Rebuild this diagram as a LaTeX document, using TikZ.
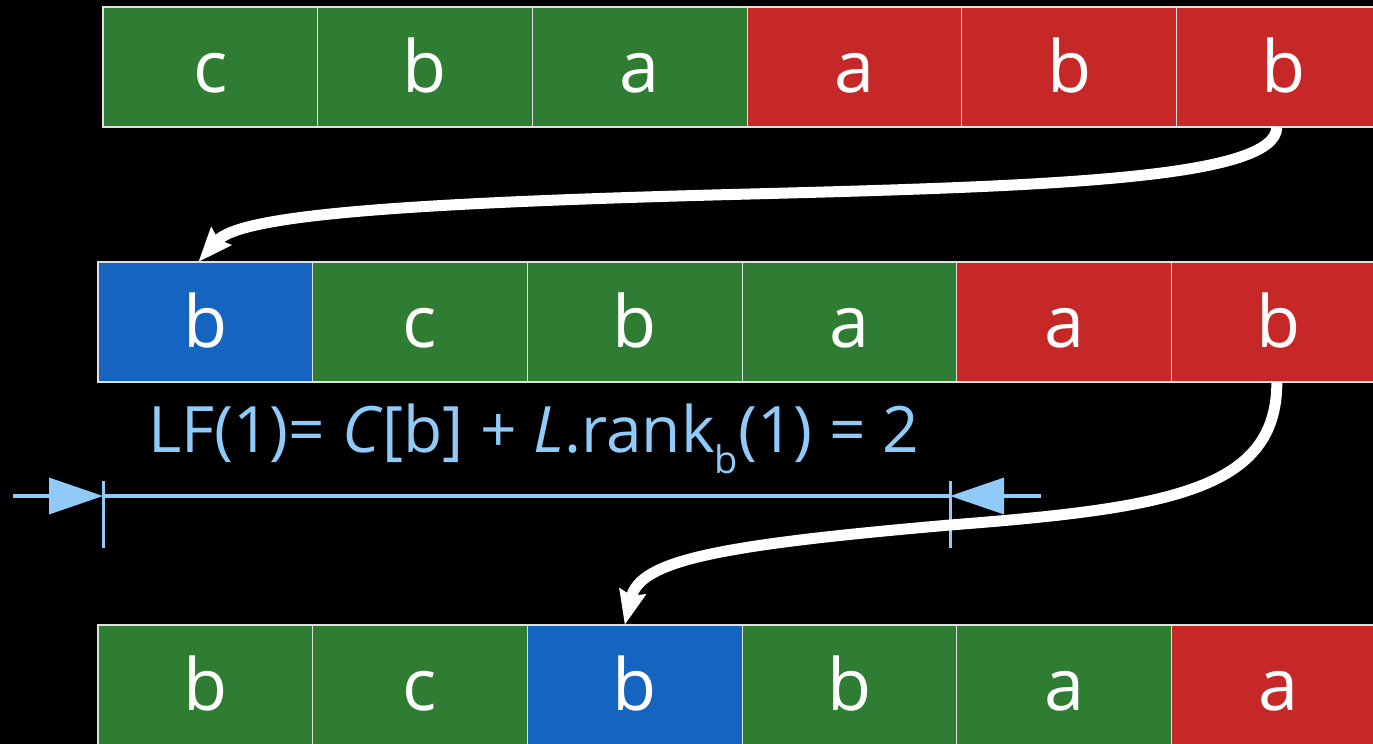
\documentclass[tikz,border=0pt]{standalone}
\usepackage{fontspec}
\setmainfont{Open Sans}
\usetikzlibrary{arrows.meta}
\definecolor{cgreen}{HTML}{2E7D32}
\definecolor{cred}{HTML}{C62828}
\definecolor{cblue}{HTML}{1565C0}
\definecolor{clab}{HTML}{90CAF9}
\definecolor{cborder}{HTML}{E0E0E0}
\begin{document}
\begin{tikzpicture}[x=1pt,y=-1pt,
  cell/.style={draw=cborder, line width=1.2pt, minimum width=214.7pt, minimum height=120pt,
    inner sep=0pt, outer sep=0pt, anchor=north west, text=white,
    font=\fontsize{72}{80}\selectfont, text height=51pt, text depth=0pt},
  gcell/.style={cell, fill=cgreen},
  rcell/.style={cell, fill=cred},
  bcell/.style={cell, fill=cblue},
  flow/.style={draw=white, line width=11pt, -{Stealth[length=34pt,width=26pt,inset=4pt]}},
  dim/.style={draw=clab, line width=3.4pt},
  dimtip/.style={dim, -{Triangle[length=54pt,width=36pt]}},
  tick/.style={draw=clab, line width=3pt}]
\clip (0,0) rectangle (1373,744);
\fill[black] (0,0) rectangle (1373,744);
% row 1
\node[gcell] (a1) at (103,7) {c};
\node[gcell] (a2) at (a1.north east) {b};
\node[gcell] (a3) at (a2.north east) {a};
\node[rcell] (a4) at (a3.north east) {a};
\node[rcell] (a5) at (a4.north east) {b};
\node[rcell] (a6) at (a5.north east) {b};
% row 2
\node[bcell] (b1) at (98,262) {b};
\node[gcell] (b2) at (b1.north east) {c};
\node[gcell] (b3) at (b2.north east) {b};
\node[gcell] (b4) at (b3.north east) {a};
\node[rcell] (b5) at (b4.north east) {a};
\node[rcell] (b6) at (b5.north east) {b};
% row 3
\node[gcell] (c1) at (98,625) {b};
\node[gcell] (c2) at (c1.north east) {c};
\node[bcell] (c3) at (c2.north east) {b};
\node[gcell] (c4) at (c3.north east) {b};
\node[gcell] (c5) at (c4.north east) {a};
\node[rcell] (c6) at (c5.north east) {a};
% label
\node[anchor=base west, inner sep=0pt, text=clab, font=\fontsize{64}{76}\selectfont] (lbl) at (148,452)
  {LF(1)= \textit{C}[b] + \textit{L}.rank\raisebox{-21pt}{\fontsize{38}{40}\selectfont b}(1) = 2};
% dimension line
\coordinate (dl) at (13,496);
\coordinate (tl) at (103,496);
\coordinate (tr) at (950,496);
\coordinate (dr) at (1041,496);
\draw[dim] (tl) -- (tr);
\draw[dimtip] (dl) -- (tl);
\draw[dimtip] (dr) -- (tr);
\draw[tick] ([yshift=15pt]tl) -- ([yshift=-52pt]tl);
\draw[tick] ([yshift=15pt]tr) -- ([yshift=-52pt]tr);
% flow arrows
\draw[flow] ([xshift=-7pt]a6.south) .. controls (1276,178) and (1060,186) .. (750,194)
  .. controls (400,203) and (240,215) .. ([xshift=-7pt]b1.north);
\draw[flow] ([xshift=-2pt]b6.south) .. controls (1277,490) and (1170,508) .. (950,525)
  .. controls (720,545) and (640,560) .. ([xshift=-10pt]c3.north);
\end{tikzpicture}
\end{document}
